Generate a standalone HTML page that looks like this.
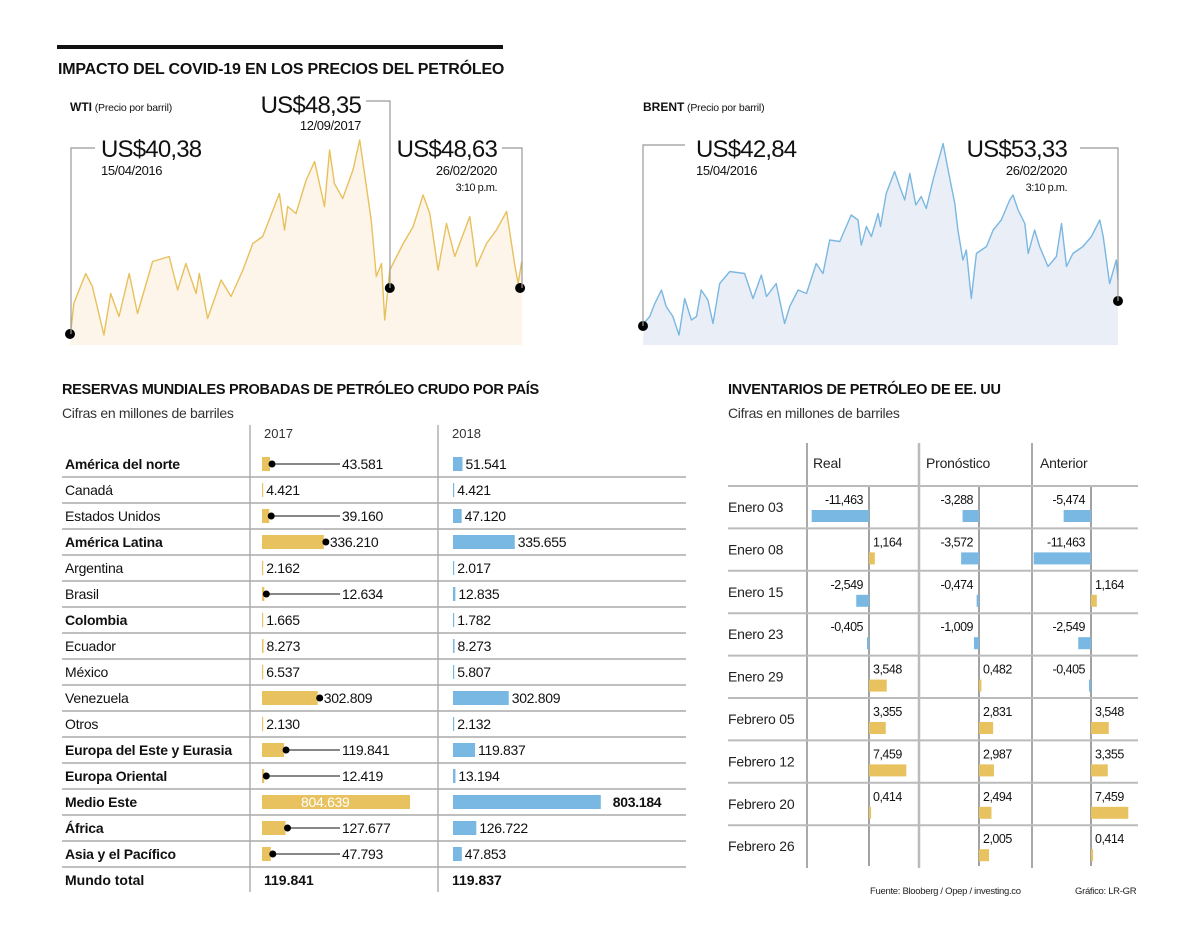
<!DOCTYPE html>
<html><head><meta charset="utf-8"><style>
html,body{margin:0;padding:0;background:#fff;}
svg{display:block;font-family:"Liberation Sans",sans-serif;}
</style></head><body>
<svg id="s" width="1200" height="945" viewBox="0 0 1200 945" xmlns="http://www.w3.org/2000/svg">
<rect x="57" y="45" width="446" height="4" fill="#111"/>
<text x="58" y="74" font-size="16" font-weight="bold" fill="#111" letter-spacing="-0.2">IMPACTO DEL COVID-19 EN LOS PRECIOS DEL PETRÓLEO</text>
<text x="70" y="111" font-size="12" fill="#111"><tspan font-weight="bold">WTI</tspan><tspan font-size="10.5" letter-spacing="-0.2"> (Precio por barril)</tspan></text>
<text x="643" y="111" font-size="12" fill="#111"><tspan font-weight="bold">BRENT</tspan><tspan font-size="10.5" letter-spacing="-0.2"> (Precio por barril)</tspan></text>
<g id="wti"></g>
<g id="brent"></g>
<g fill="none" stroke="#999" stroke-width="1.2">
<polyline points="71,334 71,148 95,148"/>
<polyline points="366,101 390,101 390,288"/>
<polyline points="502,148 522,148 522,288"/>
</g>
<g fill="#111">
<text x="101" y="157" font-size="24" letter-spacing="-0.8">US$40,38</text>
<text x="101" y="175" font-size="13" letter-spacing="-0.4">15/04/2016</text>
<text x="361" y="113" font-size="24" text-anchor="end" letter-spacing="-0.8">US$48,35</text>
<text x="361" y="130" font-size="13" text-anchor="end" letter-spacing="-0.4">12/09/2017</text>
<text x="497" y="157" font-size="24" text-anchor="end" letter-spacing="-0.8">US$48,63</text>
<text x="497" y="175" font-size="13" text-anchor="end" letter-spacing="-0.4">26/02/2020</text>
<text x="497" y="191" font-size="11" text-anchor="end" letter-spacing="-0.5">3:10 p.m.</text>
</g>
<g fill="none" stroke="#999" stroke-width="1.2">
<polyline points="643,326 643,145 685,145"/>
<polyline points="1080,148 1118,148 1118,301"/>
</g>
<g fill="#111">
<text x="696" y="157" font-size="24" letter-spacing="-0.8">US$42,84</text>
<text x="696" y="175" font-size="13" letter-spacing="-0.4">15/04/2016</text>
<text x="1067" y="157" font-size="24" text-anchor="end" letter-spacing="-0.8">US$53,33</text>
<text x="1067" y="175" font-size="13" text-anchor="end" letter-spacing="-0.4">26/02/2020</text>
<text x="1067" y="191" font-size="11" text-anchor="end" letter-spacing="-0.5">3:10 p.m.</text>
</g>
<text x="62" y="394" font-size="14.5" font-weight="bold" fill="#111" letter-spacing="-0.3">RESERVAS MUNDIALES PROBADAS DE PETRÓLEO CRUDO POR PAÍS</text>
<text x="62" y="418" font-size="14" fill="#333" letter-spacing="-0.3">Cifras en millones de barriles</text>
<text x="728" y="394" font-size="14.5" font-weight="bold" fill="#111" letter-spacing="-0.3">INVENTARIOS DE PETRÓLEO DE EE. UU</text>
<text x="728" y="418" font-size="14" fill="#333" letter-spacing="-0.3">Cifras en millones de barriles</text>
<g id="res"></g>
<g id="inv"></g>
<text x="870" y="894" font-size="9.5" fill="#222" letter-spacing="-0.3">Fuente: Blooberg / Opep / investing.co</text>
<text x="1075" y="894" font-size="9.5" fill="#222" letter-spacing="-0.3">Gráfico: LR-GR</text>
</svg>
<script>
const wtiDays=[2,12,49,70,106,127,153,185,211,258,310,336,362,394,404,430,472,503,540,571,602,654,670,680,706,738,764,795,811,826,852,884,905,926,941,957,973,983,999,1041,1072,1103,1124,1150,1176,1202,1249,1270,1301,1332,1364,1390,1400,1411];
const wtiValues=[28.3,34.3,40.3,37.7,28.0,36.3,31.7,40.3,32.3,42.7,43.7,37.0,42.3,36.3,40.3,31.3,39.0,35.7,41.0,46.3,47.7,56.3,49.0,53.7,52.3,59.0,62.7,53.7,65.0,58.3,55.3,61.0,67.0,57.7,51.0,39.7,42.3,31.0,41.0,46.3,49.7,56.0,52.3,41.0,50.3,43.7,51.7,41.7,46.3,49.0,52.7,41.7,38.3,42.7];
const wtiDotDays=[0,999,1406];
const wtiDotValues=[28.2,37.4,37.4];
const brentDays=[2,20,35,55,69,89,107,124,144,159,173,193,208,228,258,302,327,352,367,396,421,436,461,486,515,535,555,585,619,639,649,664,679,699,706,723,748,763,778,793,811,827,842,862,892,907,927,936,951,961,976,991,1021,1041,1065,1090,1100,1115,1135,1145,1164,1179,1204,1229,1244,1259,1278,1308,1333,1358,1368,1387,1407,1412];
const brentValues=[34.3,35.7,38.3,41.0,37.7,35.7,32.0,39.3,35.0,35.7,41.0,39.0,34.3,42.3,44.7,44.3,39.3,44.0,39.7,42.3,34.3,37.7,41.0,40.3,46.3,44.3,51.0,50.7,56.0,55.0,50.0,53.7,51.7,56.3,53.7,60.3,64.7,61.7,59.0,64.3,58.0,59.7,57.3,63.0,70.3,65.0,58.3,53.0,47.0,49.0,39.3,48.3,49.7,53.0,55.0,59.0,60.0,57.0,54.3,48.3,53.0,49.7,45.7,47.7,54.3,45.7,48.3,49.7,51.7,55.0,51.7,42.3,47.0,43.0];
const brentDotDays=[0,1412];
const brentDotValues=[33.8,38.8];
const TOTAL_DAYS=1412;

const regions=["América del norte","Canadá","Estados Unidos","América Latina","Argentina","Brasil","Colombia","Ecuador","México","Venezuela","Otros","Europa del Este y Eurasia","Europa Oriental","Medio Este","África","Asia y el Pacífico"];
const regionBold=[1,0,0,1,0,0,1,0,0,0,0,1,1,1,1,1];
const reserves2017=[43.581,4.421,39.160,336.210,2.162,12.634,1.665,8.273,6.537,302.809,2.130,119.841,12.419,804.639,127.677,47.793];
const reserves2018=[51.541,4.421,47.120,335.655,2.017,12.835,1.782,8.273,5.807,302.809,2.132,119.837,13.194,803.184,126.722,47.853];
const connector2017=[1,0,1,1,0,1,0,0,0,1,0,1,1,0,1,1];
const total2017="119.841", total2018="119.837";

const weeks=["Enero 03","Enero 08","Enero 15","Enero 23","Enero 29","Febrero 05","Febrero 12","Febrero 20","Febrero 26"];
const invReal=[-11.463,1.164,-2.549,-0.405,3.548,3.355,7.459,0.414,null];
const invForecast=[-3.288,-3.572,-0.474,-1.009,0.482,2.831,2.987,2.494,2.005];
const invPrevious=[-5.474,-11.463,1.164,-2.549,-0.405,3.548,3.355,7.459,0.414];
const invColumns=["Real","Pronóstico","Anterior"];

const NS="http://www.w3.org/2000/svg";
function mk(tag,attrs,parent,txt){const e=document.createElementNS(NS,tag);for(const k in attrs)e.setAttribute(k,attrs[k]);if(txt!=null)e.textContent=txt;parent.appendChild(e);return e;}
const fmt=v=>v.toFixed(3);
const fmtC=v=>(v<0?"-":"")+Math.abs(v).toFixed(3).replace(".",",");

function priceChart(g,days,vals,dDays,dVals,x0,x1,base,line,fill){
  const xs=d=>x0+d/TOTAL_DAYS*(x1-x0);
  const ys=v=>345-(v-base)*5;
  let pts=days.map((d,i)=>xs(d).toFixed(1)+","+ys(vals[i]).toFixed(1));
  const area=mk('polygon',{points:x0+",345 "+pts.join(" ")+" "+x1+","+ys(vals[vals.length-1]).toFixed(1)+" "+x1+",345",fill:fill},g);
  
  
  const ln=mk('polyline',{points:pts.join(" "),fill:"none",stroke:line,"stroke-width":1.4,"stroke-linejoin":"round"},g);
  
  
  dDays.forEach((d,i)=>{const c=mk('circle',{cx:xs(d),cy:ys(dVals[i]),r:5,fill:"#000"},g);
    
    });
}
priceChart(document.getElementById('wti'),wtiDays,wtiValues,wtiDotDays,wtiDotValues,70,522,26,"#e8c05c","#fdf5e9");
priceChart(document.getElementById('brent'),brentDays,brentValues,brentDotDays,brentDotValues,643,1118,30,"#7ab8e2","#e9eef7");

(function(){
  const g=document.getElementById('res');
  const sc=v=>v*0.184;
  [250,438].forEach(x=>{const l=mk('line',{x1:x,y1:425,x2:x,y2:892,stroke:"#888","stroke-width":1},g);
    
    });
  const h1=mk('text',{x:264,y:438,"font-size":13,fill:"#333"},g,"2017");
  
  
  const h2=mk('text',{x:452,y:438,"font-size":13,fill:"#333"},g,"2018");
  
  
  regions.forEach((r,i)=>{
    const cy=464+26*i;
    const t=mk('text',{x:65,y:cy+5,"font-size":14,"font-weight":regionBold[i]?"bold":"normal",fill:"#111","letter-spacing":"-0.2"},g,r);
    
    
    const ln=mk('line',{x1:62,y1:cy+13,x2:686,y2:cy+13,stroke:"#aaa","stroke-width":1.5},g);
    
    
    const w=Math.max(sc(reserves2017[i]),1.2), bx=262;
    const b=mk('rect',{x:bx,y:cy-7,width:w,height:14,fill:"#e8c25f"},g);
    
    
    let lx;
    if(i===13){lx=bx+w/2-35;}
    else if(connector2017[i]){
      const dx=bx+w+2;
      lx=w>50?dx+4:342;
      const c=mk('line',{x1:dx,y1:cy,x2:lx-2,y2:cy,stroke:"#111","stroke-width":1},g);
      
      
      const d=mk('circle',{cx:dx,cy:cy,r:3.5,fill:"#000"},g);
      
      
    } else lx=bx+w+3;
    const v1=mk('text',{x:lx,y:cy+5,"font-size":14,fill:i===13?"#fff":"#111","letter-spacing":"-0.3"},g,fmt(reserves2017[i]));
    
    
    const w2=Math.max(sc(reserves2018[i]),1.2), bx2=453;
    const b2=mk('rect',{x:bx2,y:cy-7,width:w2,height:14,fill:"#78b8e2"},g);
    
    
    const v2=mk('text',{x:bx2+w2+(i===13?12:3),y:cy+5,"font-size":14,"font-weight":i===13?"bold":"normal",fill:"#111","letter-spacing":"-0.3"},g,fmt(reserves2018[i]));
    
    
  });
  const cy=464+26*16;
  const t=mk('text',{x:65,y:cy+5,"font-size":14,"font-weight":"bold",fill:"#111"},g,"Mundo total");
  
  
  const a=mk('text',{x:264,y:cy+5,"font-size":14,"font-weight":"bold",fill:"#111"},g,total2017);
  
  
  const b=mk('text',{x:452,y:cy+5,"font-size":14,"font-weight":"bold",fill:"#111"},g,total2018);
  
  
})();

(function(){
  const g=document.getElementById('inv');
  const zeros=[869,979,1091];
  const divs=[[807,"#555",1],[919,"#bbb",2.5],[1032,"#555",1]];
  divs.forEach(d=>{const l=mk('line',{x1:d[0],y1:443,x2:d[0],y2:868,stroke:d[1],"stroke-width":d[2]},g);
    
    });
  invColumns.forEach((c,j)=>{const t=mk('text',{x:[813,926,1040][j],y:468,"font-size":14,fill:"#222","letter-spacing":"-0.2"},g,c);
    
    });
  zeros.forEach(z=>{const l=mk('line',{x1:z,y1:486,x2:z,y2:866,stroke:"#444","stroke-width":1},g);
    
    });
  const series=[invReal,invForecast,invPrevious];
  weeks.forEach((w,i)=>{
    const top=486+42.4*i;
    const ln=mk('line',{x1:728,y1:top,x2:1138,y2:top,stroke:"#bbb","stroke-width":2},g);
    
    
    const t=mk('text',{x:728,y:top+26,"font-size":14,fill:"#222","letter-spacing":"-0.2"},g,w);
    
    
    series.forEach((s,j)=>{
      const v=s[i]; if(v==null) return;
      const z=zeros[j], w2=Math.max(Math.abs(v)*5,1.5);
      const r=mk('rect',{x:v<0?z-w2:z,y:top+24,width:w2,height:12,fill:v<0?"#78b8e2":"#e8c25f"},g);
      
      
      const lbl=mk('text',{x:v<0?z-6:z+4,y:top+18,"font-size":12.5,"text-anchor":v<0?"end":"start",fill:"#111","letter-spacing":"-0.5"},g,fmtC(v));
      
      
    });
  });
})();
</script>
</body></html>
